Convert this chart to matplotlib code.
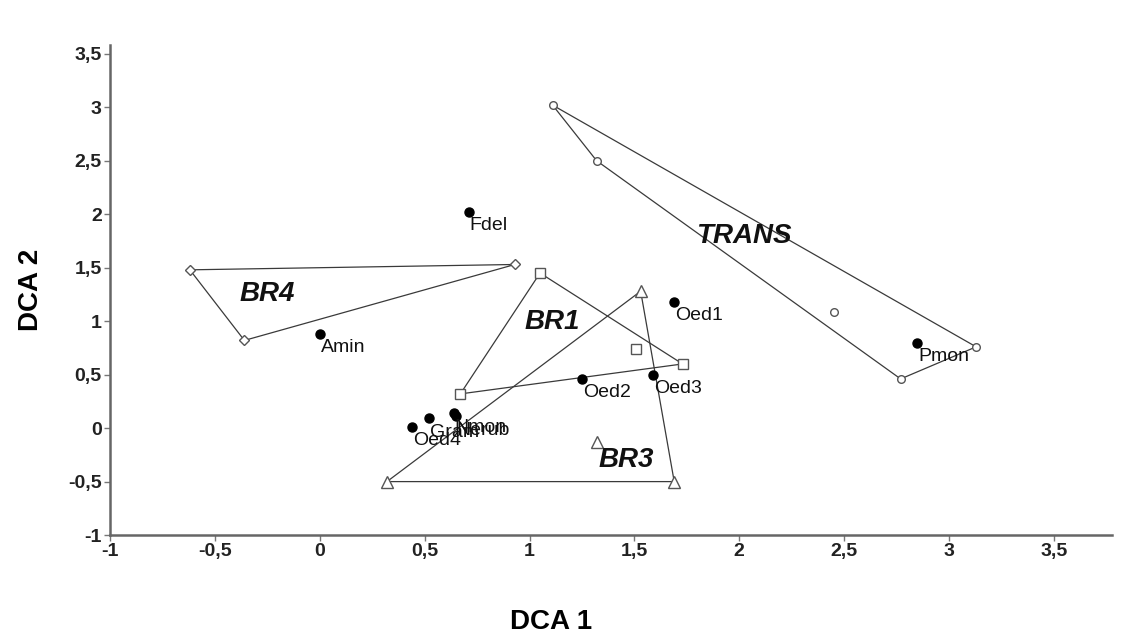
import matplotlib
matplotlib.use('Agg')
import matplotlib.pyplot as plt
import numpy as np

plt.rcParams['font.family'] = ['Liberation Sans', 'DejaVu Sans']

# groupes de sites (DCA 1, DCA 2); les premiers points forment l'enveloppe
br4_x = [-0.62, 0.93, -0.36]
br4_y = [1.48, 1.53, 0.82]
br1_x = [1.05, 1.73, 0.67, 1.51]
br1_y = [1.45, 0.60, 0.32, 0.74]
br3_x = [1.53, 1.69, 0.32, 1.32]
br3_y = [1.28, -0.50, -0.50, -0.13]
trans_x = [1.11, 3.13, 2.77, 1.32, 2.45]
trans_y = [3.02, 0.76, 0.46, 2.50, 1.09]
hull_n = {'BR4': 3, 'BR1': 3, 'BR3': 3, 'TRANS': 4}

# especes
sp_names = ['Fdel', 'Amin', 'Oed1', 'Oed2', 'Oed3', 'Pmon', 'Oed4', 'Gram', 'Nmon', 'Nerub']
sp_x = [0.71, 0.00, 1.69, 1.25, 1.59, 2.85, 0.44, 0.52, 0.64, 0.65]
sp_y = [2.02, 0.88, 1.18, 0.46, 0.50, 0.80, 0.01, 0.09, 0.14, 0.11]

group_labels = ['BR4', 'BR1', 'BR3', 'TRANS']
group_lx = [-0.25, 1.11, 1.46, 2.02]
group_ly = [1.25, 0.99, -0.30, 1.80]

fig = plt.figure(figsize=(11.48, 6.37), dpi=100)
ax = fig.add_axes([0.096, 0.160, 0.873, 0.769])

groups = [('BR4', br4_x, br4_y, 'D', 5),
          ('BR1', br1_x, br1_y, 's', 7.5),
          ('BR3', br3_x, br3_y, '^', 8),
          ('TRANS', trans_x, trans_y, 'o', 5.5)]
for name, gx, gy, mk, ms in groups:
    n = hull_n[name]
    hx = list(gx[:n]) + [gx[0]]
    hy = list(gy[:n]) + [gy[0]]
    ax.plot(hx, hy, color='#3a3a3a', lw=0.9, zorder=2)
    ax.plot(gx, gy, ls='none', marker=mk, ms=ms, mfc='white', mec='#555555', mew=1.0, zorder=3)

ax.plot(sp_x, sp_y, ls='none', marker='o', ms=6.5, color='black', zorder=4)
for nm, x, y in zip(sp_names, sp_x, sp_y):
    ax.annotate(nm, (x, y), xytext=(0.5, -10), textcoords='offset points',
                ha='left', va='center', fontsize=14, color='#111111', zorder=5)

for lb, x, y in zip(group_labels, group_lx, group_ly):
    ax.text(x, y, lb, fontsize=20, fontstyle='italic', fontweight='bold',
            ha='center', va='center', color='#111111', zorder=5)

ax.set_xlim(-1, 3.78)
ax.set_ylim(-1, 3.58)
xt = np.arange(-1, 3.51, 0.5)
yt = np.arange(-1, 3.51, 0.5)
ax.set_xticks(xt)
ax.set_yticks(yt)
fmt = lambda v: ('%g' % v).replace('.', ',')
ax.set_xticklabels([fmt(v) for v in xt], fontweight='bold', fontsize=14, color='#222222')
ax.set_yticklabels([fmt(v) for v in yt], fontweight='bold', fontsize=14, color='#222222')
ax.tick_params(direction='out', length=4, width=1, color='#777777', pad=2)

for s in ['top', 'right']:
    ax.spines[s].set_visible(False)
for s in ['left', 'bottom']:
    ax.spines[s].set_color('#666666')
    ax.spines[s].set_linewidth(1.8)

fig.text(0.480, 0.024, 'DCA 1', fontsize=20, fontweight='bold', ha='center', va='center')
fig.text(0.027, 0.545, 'DCA 2', fontsize=20, fontweight='bold', ha='center', va='center', rotation=90)

fig.savefig('out.png', dpi=100)
